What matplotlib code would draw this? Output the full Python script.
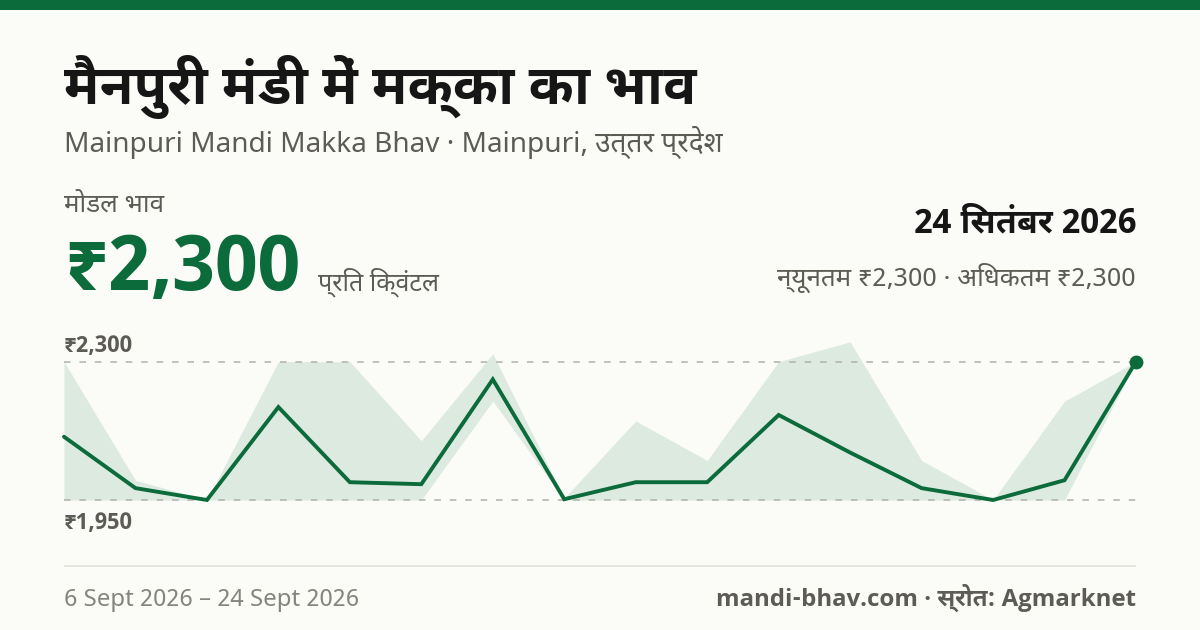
import numpy as np
import matplotlib
matplotlib.use('Agg')
import matplotlib.pyplot as plt

# Hindi strings in their normal spelling
TITLE = 'मैनपुरी मंडी में मक्का का भाव'
SUBTITLE = 'Mainpuri Mandi Makka Bhav · Mainpuri, उत्तर प्रदेश'
MODAL_LABEL = 'मोडल भाव'
MODAL_PRICE = '₹2,300'
UNIT = 'प्रति क्विंटल'
DATE = '24 सितंबर 2026'
MIN_MAX = 'न्यूनतम ₹2,300 · अधिकतम ₹2,300'
TOP_LABEL = '₹2,300'
BOTTOM_LABEL = '₹1,950'
DATE_RANGE = '6 Sept 2026 – 24 Sept 2026'
SOURCE = 'mandi-bhav.com · स्रोत: Agmarknet'

modal = [2110, 1980, 1950, 2185, 1995, 1990, 2255, 1952, 1995, 1995, 2165, 2070, 1980, 1950, 2000, 2300]
upper = [2300, 2000, 1950, 2300, 2300, 2100, 2320, 1955, 2150, 2050, 2300, 2350, 2050, 1950, 2200, 2300]
lower = [1950, 1950, 1950, 1950, 1950, 1950, 2200, 1950, 1950, 1950, 1950, 1950, 1950, 1950, 1950, 2300]
guides = [1950, 2300]

GREEN = '#0b6b3a'
BG = '#fbfcf8'
INK = '#161616'
GREY = '#5c5c54'
LIGHT = '#85857d'

REGULAR = ['Noto Sans Devanagari', 'Noto Sans', 'DejaVu Sans']
BOLD = ['Noto Sans Devanagari UI', 'Open Sans', 'Noto Sans', 'DejaVu Sans']


def visual(s):
    # matplotlib does no shaping, so the short i has to go before its consonant
    out = []
    for ch in s:
        if ch == '\u093f':
            j = len(out) - 1
            while j >= 2 and out[j - 1] == '\u094d':
                j -= 2
            out.insert(j, ch)
        else:
            out.append(ch)
    return ''.join(out)


fig = plt.figure(figsize=(12, 6.3), dpi=100, facecolor=BG)


def put(x, y, s, px, color, bold=False, ha='left'):
    # x, y in pixels from the top left, y is the baseline
    fig.text(x / 1200, 1 - y / 630, visual(s), fontsize=px * 0.72, color=color,
             weight='bold' if bold else 'normal', ha=ha, va='baseline',
             family=BOLD if bold else REGULAR)


fig.patches.append(plt.Rectangle((0, 1 - 10 / 630), 1, 10 / 630, transform=fig.transFigure,
                                 facecolor=GREEN, edgecolor='none'))
fig.patches.append(plt.Rectangle((64 / 1200, 1 - 567 / 630), 1072 / 1200, 2 / 630, transform=fig.transFigure,
                                 facecolor='#e3e5de', edgecolor='none'))

ax = fig.add_axes([64 / 1200, 130 / 630, 1072 / 1200, 138.4 / 630])
ax.set_xlim(0, 15)
ax.set_ylim(1950, 2300)
ax.axis('off')

days = np.arange(len(modal))
ax.fill_between(days, lower, upper, color=GREEN, alpha=0.12, lw=0, clip_on=False)
for g in guides:
    ax.plot([0, 15], [g, g], color='#b0b1a9', lw=1.1, dashes=(4.3, 5.8), clip_on=False)
ax.plot(days, modal, color=GREEN, lw=2.8, solid_joinstyle='miter', solid_capstyle='round', clip_on=False)
ax.plot(days[-1], modal[-1], 'o', color=GREEN, ms=10, mew=0, clip_on=False)

put(64, 104, TITLE, 55, INK, True)
put(64, 152, SUBTITLE, 28, GREY)
put(64, 212, MODAL_LABEL, 26, GREY)
put(64, 290, MODAL_PRICE, 77, GREEN, True)
put(318, 290, UNIT, 25, GREY)
put(1136, 232, DATE, 34, INK, True, ha='right')
put(1136, 286, MIN_MAX, 26, GREY, ha='right')
put(64, 352, TOP_LABEL, 22.5, GREY, True)
put(64, 529, BOTTOM_LABEL, 22.5, GREY, True)
put(64, 606, DATE_RANGE, 24, LIGHT)
put(1136, 606, SOURCE, 24, GREY, True, ha='right')

fig.savefig('out.png', dpi=100, facecolor=BG)
